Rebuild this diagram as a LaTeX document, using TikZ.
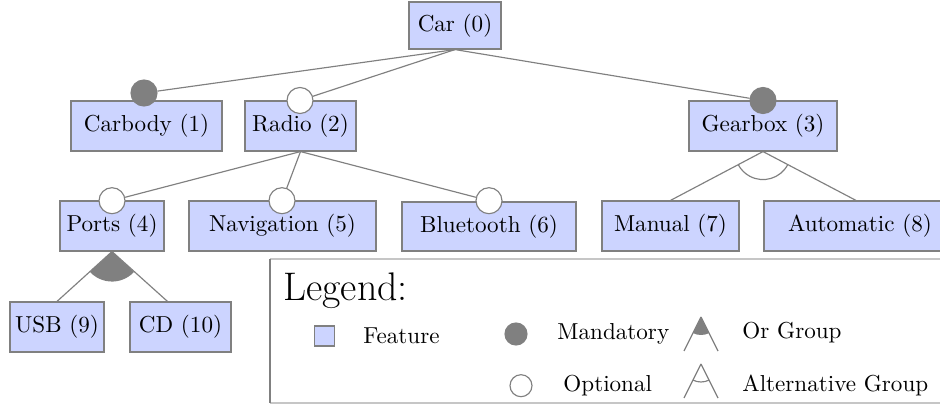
\documentclass[tikz,border=0pt]{standalone}
\usetikzlibrary{calc}
\definecolor{featfill}{RGB}{204,212,255}
\newcommand\pxu{0.433pt}
\begin{document}
\begin{tikzpicture}[x=0.433pt,y=-0.433pt,
  feat/.style 2 args={draw=gray, fill=featfill, line width=0.5pt, minimum width=#1*\pxu, minimum height=#2*\pxu, inner sep=0pt},
  conn/.style={draw=gray, line width=0.5pt},
  mandc/.style={circle, fill=gray, draw=gray, line width=0.5pt, minimum size=26*\pxu, inner sep=0pt},
  optc/.style={circle, fill=white, draw=gray, line width=0.5pt, minimum size=26*\pxu, inner sep=0pt},
  lmand/.style={circle, fill=gray, draw=gray, line width=0.5pt, minimum size=22*\pxu, inner sep=0pt},
  lopt/.style={circle, fill=white, draw=gray, line width=0.5pt, minimum size=22*\pxu, inner sep=0pt},
  legtext/.style={anchor=base west, inner sep=0pt}]
\clip (0,0) rectangle (940,406);
\fill[white] (0,0) rectangle (940,406);
% legend frame
\draw[gray!45, line width=0.6pt] (270,259) -- (945,259);
\draw[gray!45, line width=0.6pt] (270,403) -- (945,403);
\draw[gray, line width=0.9pt] (270,259) -- (270,403);
% feature boxes
\node[feat={92}{47}] (car) at (455,25.5) {Car (0)};
\node[feat={151}{50}] (carbody) at (146.5,126) {Carbody (1)};
\node[feat={111}{50}] (radio) at (300.5,126) {Radio (2)};
\node[feat={148}{50}] (gearbox) at (763,126) {Gearbox (3)};
\node[feat={104}{50}] (ports) at (112,226) {Ports (4)};
\node[feat={187}{50}] (nav) at (282.5,226) {Navigation (5)};
\node[feat={174}{49}] (bt) at (489,226.5) {Bluetooth (6)};
\node[feat={137}{50}] (man) at (670.5,226) {Manual (7)};
\node[feat={192}{50}] (auto) at (860,226) {Automatic (8)};
\node[feat={94}{50}] (usb) at (57,327) {USB (9)};
\node[feat={101}{50}] (cd) at (180.5,327) {CD (10)};
% decoration circles
\node[mandc] (c1) at (144,93) {};
\node[optc] (c2) at (300,100.5) {};
\node[mandc] (c3) at (763,100.5) {};
\node[optc] (c4) at (112,200.7) {};
\node[optc] (c5) at (282,200.7) {};
\node[optc] (c6) at (489,200.7) {};
% connectors
\draw[conn] (car.south) -- (c1);
\draw[conn] (car.south) -- (c2);
\draw[conn] (car.south) -- (c3);
\draw[conn] (radio.south) -- (c4);
\draw[conn] (radio.south) -- (c5);
\draw[conn] (radio.south) -- (c6);
% alternative group of gearbox
\draw[conn] (gearbox.south) -- (man.north);
\draw[conn] (gearbox.south) -- ($(auto.north)+(-4,0)$);
\draw[conn] (gearbox.south) ++(28.3:28) arc[start angle=28.3, end angle=151.5, radius=28];
% or group of ports
\fill[gray] (ports.south) -- ++(42.8:30) arc[start angle=42.8, end angle=137.2, radius=30] -- cycle;
\draw[conn] (ports.south) -- (usb.north);
\draw[conn] (ports.south) -- ($(cd.north)+(-13,0)$);
% legend
\node[legtext, font=\LARGE] (legtitle) at (283,300) {Legend:};
\node[draw=gray, fill=featfill, line width=0.5pt, minimum size=20*\pxu, inner sep=0pt] (lfeat) at (324.5,336) {};
\node[legtext] (lfeattxt) at (363,343) {Feature};
\node[lmand] (lmandc) at (516,334) {};
\node[legtext] (lmandtxt) at (557,339) {Mandatory};
\node[lopt] (loptc) at (521,385.7) {};
\node[legtext] (lopttxt) at (563,391) {Optional};
\coordinate (ora) at (701,317);
\coordinate (orl) at (684,351);
\coordinate (orr) at (718,351);
\fill[gray] (ora) -- ++(63.4:18) arc[start angle=63.4, end angle=116.6, radius=18] -- cycle;
\draw[conn] (ora) -- (orl);
\draw[conn] (ora) -- (orr);
\node[legtext] (lortxt) at (742,338) {Or Group};
\coordinate (alta) at (701,364);
\coordinate (altl) at (684,398);
\coordinate (altr) at (718,398);
\draw[conn] (alta) -- (altl);
\draw[conn] (alta) -- (altr);
\draw[conn] (alta) ++(63.4:18) arc[start angle=63.4, end angle=116.6, radius=18];
\node[legtext] (lalttxt) at (742,391.5) {Alternative Group};
\end{tikzpicture}
\end{document}
